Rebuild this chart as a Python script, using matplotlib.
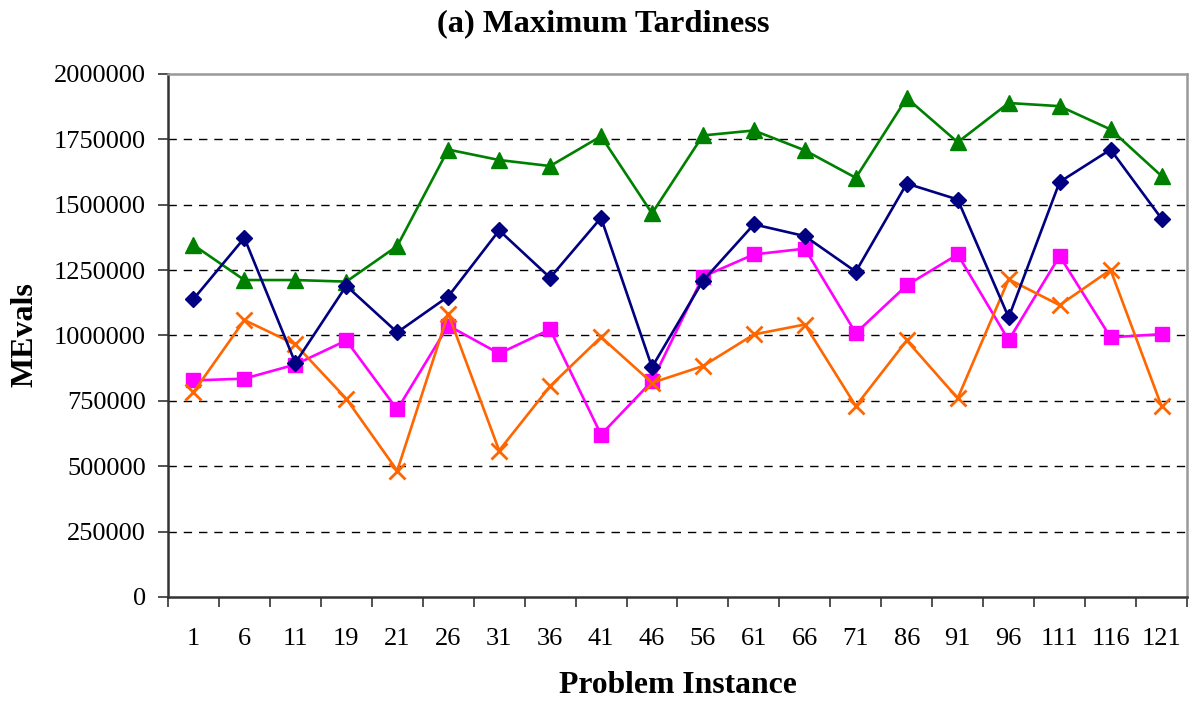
import matplotlib
matplotlib.use("Agg")
import matplotlib.pyplot as plt
from matplotlib.ticker import FixedLocator

# data
instances = ["1", "6", "11", "19", "21", "26", "31", "36", "41", "46",
             "56", "61", "66", "71", "86", "91", "96", "111", "116", "121"]

navy_diamond = [1139000, 1373000, 895000, 1190000, 1012000, 1149000, 1402000, 1221000, 1450000, 879000,
                1209000, 1425000, 1380000, 1244000, 1581000, 1520000, 1069000, 1587000, 1711000, 1447000]
magenta_square = [828000, 835000, 889000, 981000, 717000, 1038000, 931000, 1023000, 621000, 825000,
                  1225000, 1310000, 1332000, 1009000, 1192000, 1310000, 982000, 1304000, 993000, 1005000]
green_triangle = [1346000, 1212000, 1212000, 1206000, 1342000, 1711000, 1671000, 1648000, 1762000, 1467000,
                  1765000, 1784000, 1708000, 1603000, 1908000, 1739000, 1889000, 1877000, 1788000, 1610000]
orange_cross = [783000, 1059000, 966000, 758000, 483000, 1084000, 560000, 806000, 994000, 819000,
                883000, 1004000, 1042000, 730000, 981000, 760000, 1215000, 1116000, 1251000, 730000]

y_ticks = [0, 250000, 500000, 750000, 1000000, 1250000, 1500000, 1750000, 2000000]

serif = ["Liberation Serif", "DejaVu Serif"]
plt.rcParams["font.family"] = serif

fig = plt.figure(figsize=(11.92, 7.02), dpi=100)
ax = fig.add_axes([0.1409, 0.1496, 0.8549, 0.745])

x = list(range(len(instances)))
ax.plot(x, green_triangle, color="#008000", lw=1.9, marker="^", ms=11, zorder=3)
ax.plot(x, navy_diamond, color="#000080", lw=1.9, marker="D", ms=8.5, zorder=4)
ax.plot(x, magenta_square, color="#FF00FF", lw=1.9, marker="s", ms=10, zorder=3)
ax.plot(x, orange_cross, color="#FF6600", lw=1.9, marker="x", ms=11, mew=2, zorder=3)

ax.set_xlim(-0.5, len(instances) - 0.5)
ax.set_ylim(0, 2000000)
ax.set_yticks(y_ticks)
ax.set_yticklabels([str(v) for v in y_ticks], fontsize=19)
ax.set_xticks(x)
ax.set_xticklabels(instances, fontsize=19)
ax.xaxis.set_minor_locator(FixedLocator([i - 0.5 for i in range(len(instances) + 1)]))
ax.tick_params(axis="x", which="major", length=0, pad=22)
ax.tick_params(axis="x", which="minor", length=7, width=1.2, direction="out", color="#333333")
ax.tick_params(axis="y", length=7, width=1.2, direction="out", pad=9, color="#333333")

for v in y_ticks[1:-1]:
    ax.axhline(v, color="black", lw=1.0, ls=(0, (6, 5)), zorder=1)

ax.spines["left"].set_color("#333333")
ax.spines["bottom"].set_color("#333333")
ax.spines["left"].set_linewidth(1.8)
ax.spines["bottom"].set_linewidth(1.8)
ax.spines["top"].set_color("#999999")
ax.spines["right"].set_color("#999999")
ax.spines["top"].set_linewidth(1.8)
ax.spines["right"].set_linewidth(1.8)

fig.text(0.506, 0.966, "(a) Maximum Tardiness", ha="center", va="center",
         fontsize=23.4, fontweight="bold")
fig.text(0.569, 0.024, "Problem Instance", ha="center", va="center",
         fontsize=22.8, fontweight="bold")
fig.text(0.021, 0.523, "MEvals", ha="center", va="center", rotation=90,
         fontsize=23, fontweight="bold")

fig.savefig("out.png", dpi=100)
